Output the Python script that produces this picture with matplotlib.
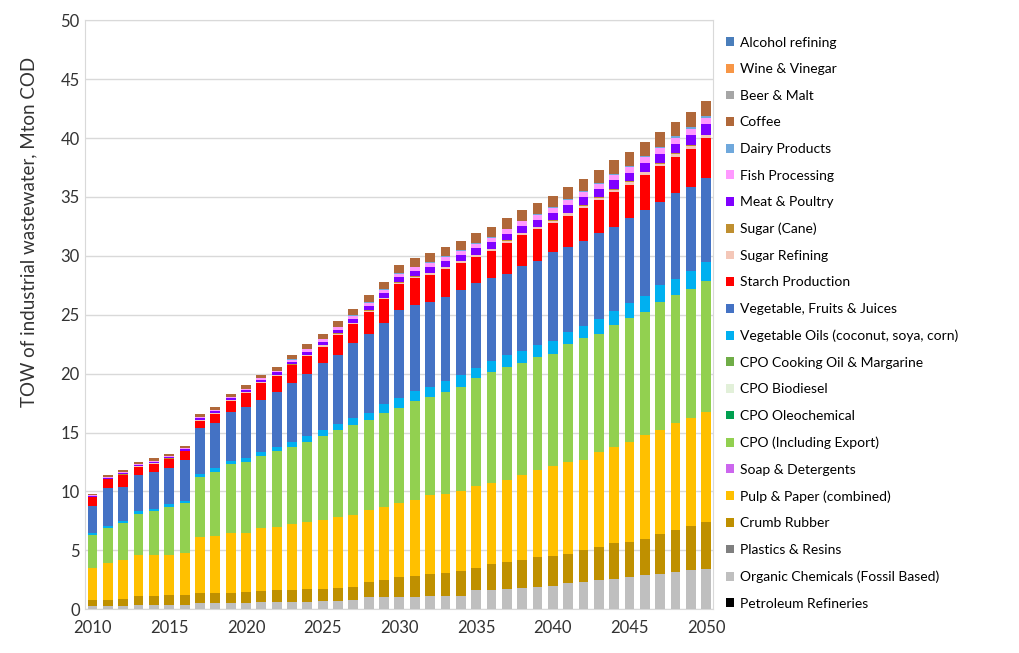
import matplotlib.pyplot as plt
import numpy as np

plt.rcParams['font.family'] = ['Lato', 'DejaVu Sans']

years = list(range(2010, 2051))

# series listed bottom of the stack first
petroleum = [0.0] * 41
organic_chem = [0.3, 0.3, 0.3, 0.35, 0.35, 0.35, 0.4, 0.5, 0.5, 0.55, 0.55, 0.6, 0.6, 0.65, 0.65, 0.7, 0.7, 0.75,
                1.0, 1.0, 1.05, 1.05, 1.1, 1.1, 1.1, 1.6, 1.65, 1.7, 1.8, 1.9, 2.0, 2.2, 2.3, 2.45, 2.6, 2.75, 2.9,
                3.0, 3.2, 3.3, 3.45]
plastics = [0.0] * 41
crumb_rubber = [0.5, 0.5, 0.55, 0.8, 0.8, 0.85, 0.8, 0.85, 0.85, 0.85, 0.9, 0.95, 1.0, 1.0, 1.05, 1.05, 1.1, 1.1,
                1.3, 1.45, 1.65, 1.8, 1.9, 2.0, 2.15, 1.9, 2.15, 2.3, 2.4, 2.5, 2.55, 2.5, 2.7, 2.85, 3.0, 2.95, 3.1,
                3.4, 3.5, 3.8, 3.95]
pulp_paper = [2.7, 3.1, 3.35, 3.45, 3.45, 3.4, 3.55, 4.75, 4.85, 5.05, 5.05, 5.35, 5.4, 5.55, 5.7, 5.85, 6.0, 6.15,
              6.1, 6.25, 6.3, 6.45, 6.7, 6.7, 6.75, 7.0, 6.9, 7.0, 7.2, 7.4, 7.65, 7.8, 7.65, 8.05, 8.2, 8.5, 8.8,
              8.8, 9.1, 9.1, 9.35]
soap = [0.0] * 41
cpo_export = [2.8, 3.0, 3.1, 3.5, 3.7, 4.1, 4.25, 5.1, 5.45, 5.85, 6.0, 6.1, 6.4, 6.6, 6.8, 7.1, 7.4, 7.6, 7.7,
              8.0, 8.1, 8.4, 8.3, 8.65, 8.9, 9.1, 9.45, 9.6, 9.5, 9.6, 9.5, 10.0, 10.35, 10.05, 10.3, 10.5, 10.4,
              10.9, 10.85, 11.0, 11.15]
cpo_oleo = [0.0] * 41
cpo_biodiesel = [0.0] * 41
cpo_cooking = [0.0] * 41
veg_oils = [0.2, 0.2, 0.2, 0.2, 0.2, 0.2, 0.2, 0.3, 0.3, 0.3, 0.3, 0.35, 0.4, 0.4, 0.5, 0.5, 0.5, 0.6, 0.6, 0.7,
            0.8, 0.8, 0.9, 0.95, 1.0, 0.9, 0.95, 0.95, 1.0, 1.0, 1.05, 1.0, 1.05, 1.2, 1.25, 1.3, 1.4, 1.4, 1.35,
            1.5, 1.6]
veg_fruits = [2.3, 3.2, 2.9, 3.1, 3.15, 3.1, 3.45, 3.9, 3.85, 4.15, 4.4, 4.45, 4.6, 5.0, 5.3, 5.7, 5.9, 6.4, 6.7,
              6.9, 7.5, 7.3, 7.2, 7.1, 7.2, 7.2, 7.0, 6.95, 7.2, 7.2, 7.55, 7.25, 7.25, 7.3, 7.1, 7.2, 7.3, 7.1, 7.3,
              7.15, 7.1]
starch = [0.7, 0.75, 1.0, 0.7, 0.7, 0.75, 0.75, 0.6, 0.8, 0.95, 1.15, 1.4, 1.4, 1.5, 1.5, 1.4, 1.7, 1.6, 1.85,
          2.0, 2.2, 2.3, 2.3, 2.4, 2.3, 2.2, 2.3, 2.6, 2.65, 2.65, 2.5, 2.65, 2.75, 2.8, 2.95, 2.85, 2.95, 3.0, 3.1,
          3.25, 3.4]
sugar_refining = [0.02, 0.03, 0.03, 0.03, 0.04, 0.04, 0.04, 0.05, 0.05, 0.05, 0.05, 0.06, 0.06, 0.07, 0.08, 0.09,
                  0.1, 0.1, 0.11, 0.12, 0.13, 0.14, 0.14, 0.15, 0.15, 0.16, 0.16, 0.17, 0.17, 0.18, 0.18, 0.2, 0.2,
                  0.21, 0.22, 0.22, 0.23, 0.23, 0.24, 0.25, 0.25]
sugar_cane = [0.01, 0.01, 0.01, 0.01, 0.01, 0.01, 0.01, 0.01, 0.01, 0.01, 0.01, 0.02, 0.02, 0.02, 0.02, 0.02,
              0.02, 0.02, 0.02, 0.02, 0.02, 0.04, 0.04, 0.04, 0.04, 0.04, 0.04, 0.04, 0.04, 0.04, 0.04, 0.05, 0.05,
              0.05, 0.05, 0.05, 0.05, 0.05, 0.05, 0.05, 0.05]
meat_poultry = [0.08, 0.09, 0.11, 0.11, 0.12, 0.12, 0.14, 0.16, 0.16, 0.16, 0.18, 0.19, 0.22, 0.24, 0.27, 0.3,
                0.32, 0.35, 0.38, 0.41, 0.43, 0.46, 0.49, 0.5, 0.51, 0.54, 0.55, 0.57, 0.58, 0.59, 0.62, 0.66, 0.68,
                0.7, 0.73, 0.74, 0.77, 0.78, 0.81, 0.84, 0.85]
fish = [0.05, 0.06, 0.07, 0.07, 0.08, 0.08, 0.09, 0.11, 0.11, 0.11, 0.12, 0.13, 0.14, 0.16, 0.18, 0.2, 0.22, 0.23,
        0.25, 0.27, 0.29, 0.31, 0.32, 0.33, 0.34, 0.36, 0.37, 0.38, 0.39, 0.4, 0.41, 0.44, 0.45, 0.47, 0.49, 0.5,
        0.51, 0.52, 0.54, 0.56, 0.57]
dairy = [0.01, 0.01, 0.01, 0.01, 0.01, 0.01, 0.01, 0.02, 0.02, 0.02, 0.02, 0.02, 0.02, 0.03, 0.03, 0.03, 0.04,
         0.05, 0.05, 0.05, 0.06, 0.04, 0.05, 0.05, 0.05, 0.06, 0.07, 0.06, 0.07, 0.07, 0.08, 0.07, 0.07, 0.08, 0.08,
         0.08, 0.09, 0.09, 0.1, 0.1, 0.11]
coffee = [0.13, 0.15, 0.17, 0.17, 0.19, 0.19, 0.21, 0.25, 0.25, 0.25, 0.27, 0.29, 0.34, 0.38, 0.42, 0.46, 0.5,
          0.55, 0.59, 0.63, 0.67, 0.71, 0.76, 0.78, 0.8, 0.84, 0.86, 0.88, 0.9, 0.92, 0.97, 1.03, 1.05, 1.09, 1.13,
          1.16, 1.2, 1.22, 1.26, 1.3, 1.32]
beer_malt = [0.0] * 41
wine_vinegar = [0.0] * 41
alcohol = [0.0] * 41

series = [
    ('Petroleum Refineries', petroleum, '#000000'),
    ('Organic Chemicals (Fossil Based)', organic_chem, '#BFBFBF'),
    ('Plastics & Resins', plastics, '#7F7F7F'),
    ('Crumb Rubber', crumb_rubber, '#BF9000'),
    ('Pulp & Paper (combined)', pulp_paper, '#FFC000'),
    ('Soap & Detergents', soap, '#CC66EE'),
    ('CPO (Including Export)', cpo_export, '#92D050'),
    ('CPO Oleochemical', cpo_oleo, '#00A050'),
    ('CPO Biodiesel', cpo_biodiesel, '#E2F0D9'),
    ('CPO Cooking Oil & Margarine', cpo_cooking, '#70AD47'),
    ('Vegetable Oils (coconut, soya, corn)', veg_oils, '#00B0F0'),
    ('Vegetable, Fruits & Juices', veg_fruits, '#4472C4'),
    ('Starch Production', starch, '#FF0000'),
    ('Sugar Refining', sugar_refining, '#F4C7B8'),
    ('Sugar (Cane)', sugar_cane, '#BF8F30'),
    ('Meat & Poultry', meat_poultry, '#8000FF'),
    ('Fish Processing', fish, '#FF99FF'),
    ('Dairy Products', dairy, '#6FA8DC'),
    ('Coffee', coffee, '#B0683A'),
    ('Beer & Malt', beer_malt, '#A6A6A6'),
    ('Wine & Vinegar', wine_vinegar, '#F79646'),
    ('Alcohol refining', alcohol, '#4A7EBB'),
]

fig = plt.figure(figsize=(10.19, 6.53), dpi=100)
ax = fig.add_axes([0.083, 0.067, 0.617, 0.902])

bottom = np.zeros(len(years))
handles = []
for name, vals, col in series:
    b = ax.bar(years, vals, width=0.64, bottom=bottom, color=col, label=name, zorder=3)
    bottom += np.array(vals)
    handles.append(b)

ax.set_xlim(2009.48, 2050.46)
ax.set_ylim(0, 50)
ax.set_yticks(range(0, 51, 5))
ax.set_xticks(range(2010, 2051, 5))
ax.tick_params(length=0, labelsize=12, colors='#333333')
ax.tick_params(axis='x', pad=8)
ax.grid(axis='y', color='#D9D9D9', linewidth=1, zorder=0)
for sp in ax.spines.values():
    sp.set_color('#D9D9D9')
ax.set_ylabel('TOW of industrial wastewater, Mton COD', fontsize=13.5, color='#333333')
ax.yaxis.set_label_coords(-0.075, 0.64)

leg = fig.legend(handles[::-1], [s[0] for s in series][::-1], loc='upper left',
                 bbox_to_anchor=(0.7, 0.963), frameon=False, fontsize=10,
                 handlelength=0.6, handleheight=0.6, handletextpad=0.4, labelspacing=1.05)

fig.savefig('out.png', dpi=100)
